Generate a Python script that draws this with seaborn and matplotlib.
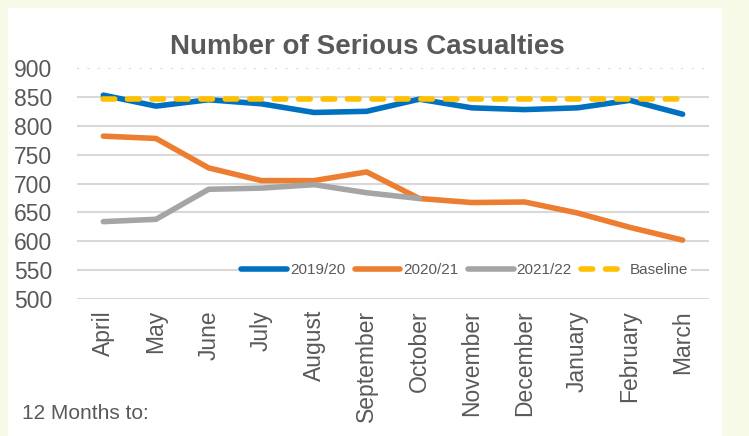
import numpy as np
import pandas as pd
import matplotlib
matplotlib.use("Agg")
import matplotlib.pyplot as plt
from matplotlib.patches import Rectangle
import seaborn as sns

# ---- data ----
months = ["April", "May", "June", "July", "August", "September", "October",
          "November", "December", "January", "February", "March"]
s_1920 = [853, 834, 845, 838, 823, 825, 846, 831, 828, 831, 844, 820]
s_2021 = [782, 778, 727, 705, 705, 720, 674, 667, 668, 649, 624, 602]
s_2122 = [634, 638, 690, 692, 698, 684, 674, np.nan, np.nan, np.nan, np.nan, np.nan]
baseline = [847] * 12
y_ticks = [500, 550, 600, 650, 700, 750, 800, 850, 900]

TEXT = "#595959"
GRID = "#D9D9D9"

sns.set_style("white")
plt.rcParams["font.family"] = ["Liberation Sans", "DejaVu Sans"]

df = pd.DataFrame({"pos": np.arange(len(months)), "2019/20": s_1920,
                   "2020/21": s_2021, "2021/22": s_2122, "Baseline": baseline})

fig = plt.figure(figsize=(7.49, 4.36), dpi=100, facecolor="#F6FAE7")
# white chart panel on the pale green page
fig.patches.append(Rectangle((8 / 749, 0), 714 / 749, 1 - 8 / 436,
                             transform=fig.transFigure, facecolor="white",
                             edgecolor="none", zorder=-5))
ax = fig.add_axes([77 / 749, 1 - 299 / 436, 632 / 749, 231 / 436])
ax.set_zorder(2)
ax.set_facecolor("white")

sns.lineplot(data=df, x="pos", y="2019/20", ax=ax, color="#0070C0", lw=4,
             label="2019/20", solid_capstyle="round")
sns.lineplot(data=df, x="pos", y="2020/21", ax=ax, color="#ED7D31", lw=4,
             label="2020/21", solid_capstyle="round")
sns.lineplot(data=df, x="pos", y="2021/22", ax=ax, color="#A5A5A5", lw=4,
             label="2021/22", solid_capstyle="round")
sns.lineplot(data=df, x="pos", y="Baseline", ax=ax, color="#FFC000", lw=4,
             label="Baseline", dashes=False)
ax.lines[-1].set_linestyle((0, (2.1, 2.3)))
ax.lines[-1].set_dash_capstyle("round")

ax.set_xlim(-0.5, len(months) - 0.5)
ax.set_ylim(500, 900)
ax.set_xticks(df["pos"])
ax.set_xticklabels(months, rotation=90, fontsize=16.5, color=TEXT)
ax.set_yticks(y_ticks)
ax.set_yticklabels([str(v) for v in y_ticks], fontsize=16.5, color=TEXT)
ax.tick_params(axis="both", length=0)
ax.tick_params(axis="y", pad=18)
ax.tick_params(axis="x", pad=8)
ax.set_xlabel("")
ax.set_ylabel("")
for sp in ax.spines.values():
    sp.set_visible(False)

ax.grid(axis="y", color=GRID, lw=1.5)
ax.set_axisbelow(True)
ax.yaxis.get_gridlines()[-1].set_linestyle((0, (1, 4)))

ax.set_title("Number of Serious Casualties", fontsize=20, fontweight="bold",
             color=TEXT, pad=10, x=0.459)

leg = ax.legend(loc="center left", bbox_to_anchor=(0.255, 0.125), ncol=4,
                frameon=True, fontsize=11, handlelength=3.0, handletextpad=0.2,
                columnspacing=0.6, borderpad=0.2, borderaxespad=0)
leg.get_frame().set_facecolor("white")
leg.get_frame().set_edgecolor("none")
leg.get_frame().set_alpha(1)
for t in leg.get_texts():
    t.set_color(TEXT)

fig.text(22 / 749, 1 - 413 / 436, "12 Months to:", fontsize=15, color=TEXT,
         va="center", ha="left")

fig.savefig("out.png", dpi=100, facecolor=fig.get_facecolor())
